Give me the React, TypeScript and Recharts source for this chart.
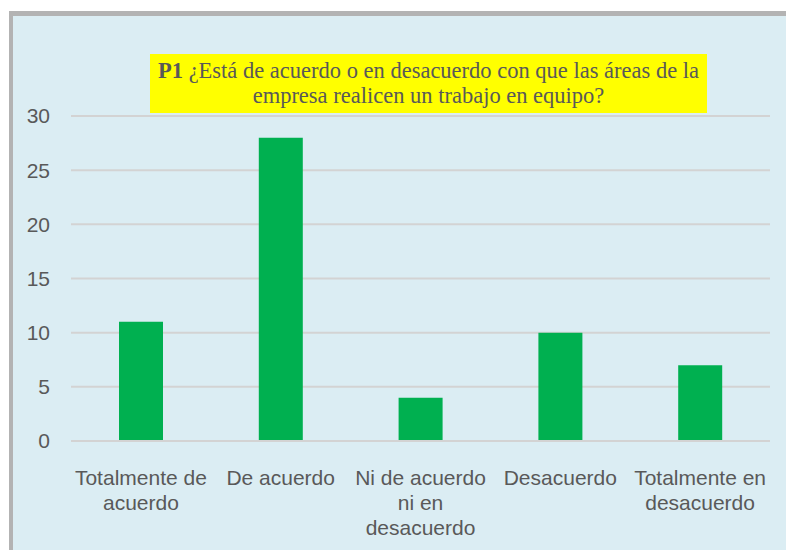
import React from "react";
import { BarChart, Bar, XAxis, YAxis, CartesianGrid } from "recharts";

const categories = [
  "Totalmente de\nacuerdo",
  "De acuerdo",
  "Ni de acuerdo\nni en\ndesacuerdo",
  "Desacuerdo",
  "Totalmente en\ndesacuerdo",
];
const values = [11, 28, 4, 10, 7];
const yTicks = [0, 5, 10, 15, 20, 25, 30];

const data = categories.map((c, i) => ({ name: c, value: values[i] }));

const FONT = "'Liberation Sans', Arial, sans-serif";
const GRAY = "#595959";

const XTick = (props: any) => {
  const { x, y, payload } = props;
  const lines = String(payload.value).split("\n");
  return (
    <text x={x} y={y} textAnchor="middle" fill={GRAY} fontFamily={FONT} fontSize={21}>
      {lines.map((l: string, i: number) => (
        <tspan key={i} x={x} dy={i === 0 ? 36 : 25}>
          {l}
        </tspan>
      ))}
    </text>
  );
};

export default function App() {
  return (
    <div style={{ position: "absolute", left: 0, top: 0, width: 786, height: 550, overflow: "hidden", background: "#ffffff" }}>
      <div
        style={{
          position: "absolute",
          left: 9,
          top: 11,
          width: 800,
          height: 560,
          background: "#DBEDF3",
          borderLeft: "4px solid #B3B3B3",
          borderTop: "5px solid #B3B3B3",
          boxSizing: "border-box",
        }}
      />
      <div style={{ position: "absolute", left: 0, top: 0 }}>
        <BarChart
          width={786}
          height={550}
          data={data}
          margin={{ top: 116, right: 16, bottom: 9, left: 11 }}
        >
          <CartesianGrid vertical={false} stroke="#D3D3D3" strokeWidth={2} />
          <XAxis
            dataKey="name"
            axisLine={{ stroke: "#D3D3D3", strokeWidth: 2 }}
            tickLine={false}
            interval={0}
            tick={<XTick />}
            height={100}
          />
          <YAxis
            width={60}
            domain={[0, 30]}
            ticks={yTicks}
            axisLine={false}
            tickLine={false}
            tickMargin={15}
            tick={{ fill: GRAY, fontFamily: FONT, fontSize: 21 }}
          />
          <Bar dataKey="value" fill="#00B050" barSize={44} isAnimationActive={false} />
        </BarChart>
      </div>
      <div
        style={{
          position: "absolute",
          left: 150,
          top: 54,
          width: 557,
          height: 59,
          background: "#FFFF00",
          color: GRAY,
          fontFamily: "'Liberation Serif', 'Times New Roman', serif",
          fontSize: 22.5,
          lineHeight: "25px",
          textAlign: "center",
          paddingTop: 4,
          boxSizing: "border-box",
          whiteSpace: "nowrap",
        }}
      >
        <b>P1</b> ¿Está de acuerdo o en desacuerdo con que las áreas de la
        <br />
        empresa realicen un trabajo en equipo?
      </div>
    </div>
  );
}
